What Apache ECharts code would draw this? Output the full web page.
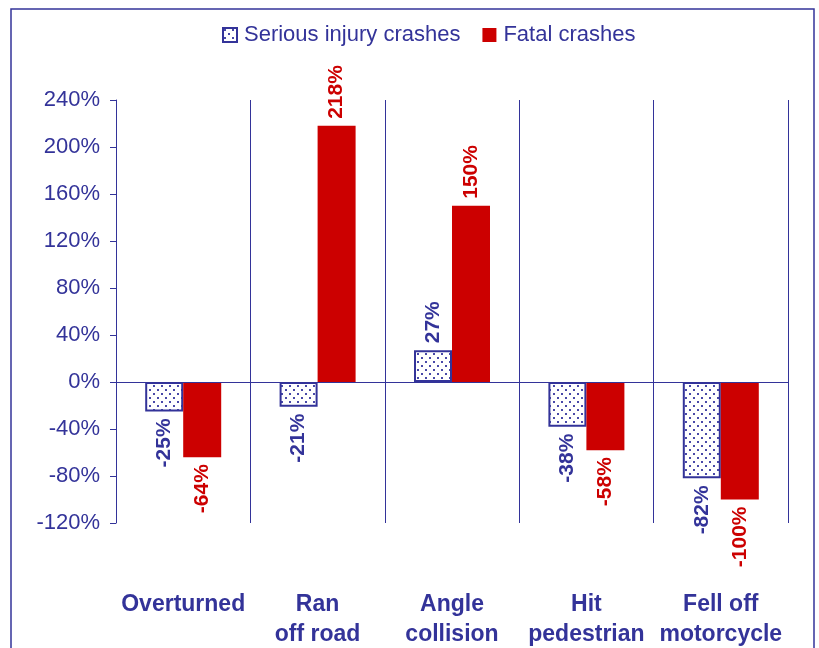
<!DOCTYPE html>
<html>
<head>
<meta charset="utf-8">
<script src="https://cdn.jsdelivr.net/npm/echarts@6/dist/echarts.min.js"></script>
<style>
  html, body { margin: 0; padding: 0; background: #fff; }
  #myChart { width: 819px; height: 648px; }
</style>
</head>
<body>
<div id="myChart"></div>
<script>
// data
var categories = ['Overturned', 'Ran\noff road', 'Angle\ncollision', 'Hit\npedestrian', 'Fell off\nmotorcycle'];
var seriousInjury = [-25, -21, 27, -38, -82];
var fatal = [-64, 218, 150, -58, -100];
var yTicks = { min: -120, max: 240, step: 40 };

var blue = '#333399';
var red = '#cc0000';
var font = "'Liberation Sans', Arial, sans-serif";

// dotted fill like the excel pattern
function dotPattern() {
    var c = document.createElement('canvas');
    c.width = 8; c.height = 8;
    var ctx = c.getContext('2d');
    ctx.fillStyle = '#ffffff';
    ctx.fillRect(0, 0, 8, 8);
    ctx.fillStyle = '#4848a8';
    ctx.fillRect(1, 1, 2, 2);
    ctx.fillRect(5, 5, 2, 2);
    return c;
}
var pattern = { image: dotPattern(), repeat: 'repeat' };

// put labels above positive bars, below negative ones
function withLabels(values, color) {
    return values.map(function (v) {
        return {
            value: v,
            label: {
                position: v >= 0 ? 'top' : 'bottom',
                align: v >= 0 ? 'left' : 'right',
                color: color
            }
        };
    });
}

var labelBase = {
    show: true,
    rotate: 90,
    verticalAlign: 'middle',
    distance: 7,
    fontFamily: font,
    fontWeight: 'bold',
    fontSize: 21,
    formatter: '{c}%'
};

var myChart = echarts.init(document.getElementById('myChart'), null, { renderer: 'canvas' });

myChart.setOption({
    animation: false,
    backgroundColor: '#fff',
    graphic: [{
        type: 'rect',
        shape: { x: 11, y: 9, width: 803, height: 660 },
        style: { fill: null, stroke: blue, lineWidth: 1.5 },
        z: 0
    }],
    legend: {
        top: 19,
        left: 217,
        itemWidth: 14,
        itemHeight: 14,
        itemGap: 22,
        textStyle: { fontFamily: font, fontSize: 22, color: blue, padding: [0, 0, 0, 2] },
        data: [
            { name: 'Serious injury crashes', icon: 'rect' },
            { name: 'Fatal crashes', icon: 'rect' }
        ]
    },
    grid: { left: 116, right: 31, top: 100, bottom: 125, outerBoundsMode: 'none' },
    xAxis: {
        type: 'category',
        data: categories,
        axisLine: { show: false, onZero: false },
        axisTick: { show: false },
        splitLine: { show: true, lineStyle: { color: blue, width: 1 } },
        axisLabel: {
            margin: 67,
            interval: 0,
            fontFamily: font,
            fontWeight: 'bold',
            fontSize: 23,
            lineHeight: 30,
            color: blue
        }
    },
    yAxis: {
        type: 'value',
        min: yTicks.min,
        max: yTicks.max,
        interval: yTicks.step,
        axisLine: { show: true, lineStyle: { color: blue, width: 1 } },
        axisTick: { show: true, length: 6, lineStyle: { color: blue } },
        splitLine: { show: false },
        axisLabel: {
            margin: 16,
            formatter: '{value}%',
            fontFamily: font,
            fontSize: 22,
            color: blue
        }
    },
    series: [
        {
            name: 'Serious injury crashes',
            type: 'bar',
            barWidth: 38,
            barGap: '0%',
            data: withLabels(seriousInjury, blue),
            itemStyle: { color: pattern, borderColor: blue, borderWidth: 2 },
            label: labelBase,
            markLine: {
                silent: true,
                symbol: 'none',
                label: { show: false },
                lineStyle: { color: blue, width: 1, type: 'solid' },
                data: [{ yAxis: 0 }]
            }
        },
        {
            name: 'Fatal crashes',
            type: 'bar',
            barWidth: 38,
            barGap: '0%',
            data: withLabels(fatal, red),
            itemStyle: { color: red },
            label: labelBase
        }
    ]
});
</script>
</body>
</html>
